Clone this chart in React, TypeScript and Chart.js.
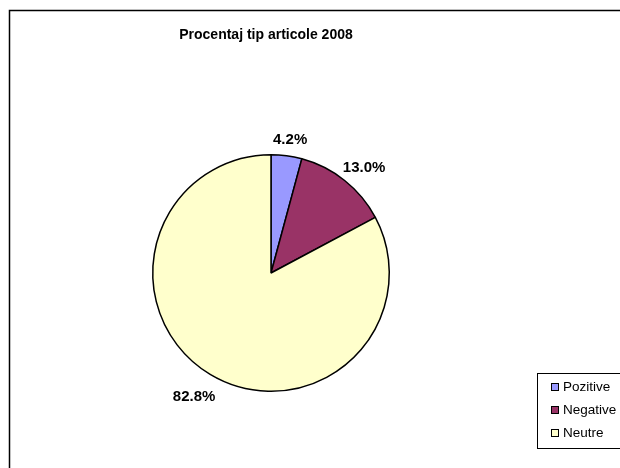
import React, { useEffect, useRef } from "react";
import { Chart, registerables } from "chart.js";

Chart.register(...registerables);

const titleText = "Procentaj tip articole 2008";
const categories = ["Pozitive", "Negative", "Neutre"];
const values = [4.2, 13.0, 82.8];
const colors = ["#9999FF", "#993366", "#FFFFCC"];

const FONT = "Arial, 'Liberation Sans', sans-serif";

const decorPlugin = {
  id: "decor",
  beforeDraw(chart: any) {
    const ctx = chart.ctx;
    ctx.save();
    ctx.fillStyle = "#ffffff";
    ctx.fillRect(0, 0, chart.width, chart.height);
    ctx.strokeStyle = "#000000";
    ctx.lineWidth = 1.5;
    ctx.strokeRect(9.5, 10.5, 700, 600);
    ctx.fillStyle = "#000000";
    ctx.font = `bold 14px ${FONT}`;
    ctx.textAlign = "center";
    ctx.textBaseline = "middle";
    ctx.fillText(titleText, 266, 35);
    ctx.restore();
  },
  afterDraw(chart: any) {
    const ctx = chart.ctx;
    const meta = chart.getDatasetMeta(0);
    ctx.save();
    ctx.font = `bold 15px ${FONT}`;
    ctx.fillStyle = "#000000";
    ctx.textAlign = "center";
    ctx.textBaseline = "middle";
    const data = chart.data.datasets[0].data as number[];
    meta.data.forEach((arc: any, i: number) => {
      const p = arc.getProps(["x", "y", "startAngle", "endAngle", "outerRadius"], true);
      const mid = (p.startAngle + p.endAngle) / 2;
      const dx = Math.cos(mid);
      const dy = Math.sin(mid);
      const txt = data[i].toFixed(1) + "%";
      const w = ctx.measureText(txt).width;
      const h = 13;
      const r = p.outerRadius + 10;
      const cx = p.x + dx * r + dx * w / 2;
      const cy = p.y + dy * r + dy * h / 2 + (dy > 0 ? dy * 10 : 0);
      ctx.fillText(txt, cx, cy);
    });
    // legend
    ctx.lineWidth = 1;
    ctx.strokeStyle = "#000000";
    ctx.fillStyle = "#ffffff";
    ctx.fillRect(537.5, 373.5, 100, 75);
    ctx.strokeRect(537.5, 373.5, 100, 75);
    ctx.font = `13.5px ${FONT}`;
    ctx.textAlign = "left";
    const bg = chart.data.datasets[0].backgroundColor as string[];
    (chart.data.labels as string[]).forEach((lab: string, i: number) => {
      const y = 387 + i * 23;
      ctx.fillStyle = bg[i];
      ctx.fillRect(551.5, y - 3.5, 7, 7);
      ctx.strokeRect(551.5, y - 3.5, 7, 7);
      ctx.fillStyle = "#000000";
      ctx.fillText(lab, 563, y);
    });
    ctx.restore();
  },
};

export default function App() {
  const ref = useRef<HTMLCanvasElement>(null);
  useEffect(() => {
    if (!ref.current) return;
    const chart = new Chart(ref.current, {
      type: "pie",
      data: {
        labels: categories,
        datasets: [
          {
            data: values,
            backgroundColor: colors,
            borderColor: "#000000",
            borderWidth: 1.5,
          },
        ],
      },
      options: {
        animation: false,
        responsive: false,
        maintainAspectRatio: false,
        layout: { padding: { left: 152, right: 230, top: 154, bottom: 76 } },
        plugins: {
          legend: { display: false },
          title: { display: false },
          tooltip: { enabled: false },
        },
      },
      plugins: [decorPlugin],
    });
    return () => chart.destroy();
  }, []);
  return (
    <div style={{ position: "fixed", left: 0, top: 0, width: 620, height: 468 }}>
      <canvas ref={ref} width={620} height={468} style={{ width: 620, height: 468, display: "block" }} />
    </div>
  );
}
